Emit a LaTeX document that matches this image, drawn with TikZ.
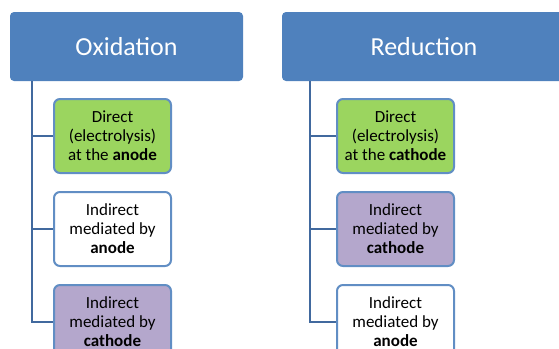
\documentclass[tikz,border=0pt]{standalone}
\usepackage{fontspec}
\setmainfont{Carlito}
\usetikzlibrary{positioning}
\definecolor{headblue}{HTML}{4F81BD}
\definecolor{linkblue}{HTML}{41699E}
\definecolor{leafgreen}{HTML}{9BD55F}
\definecolor{leafpurple}{HTML}{B4A7CC}
\begin{document}
\begin{tikzpicture}[x=1pt, y=-1pt, node distance={17pt},
  head/.style = {fill=headblue, rounded corners=4pt, minimum height=69pt, text=white, font=\fontsize{26}{30}\selectfont, inner sep=0pt},
  leaf/.style = {draw=headblue!90, line width=2pt, rounded corners=6pt, minimum width=117pt, minimum height=74pt, align=center, font=\fontsize{17}{19}\selectfont, inner sep=0pt},
  link/.style = {draw=linkblue, line width=2.5pt}]
\clip (0,0) rectangle (559,348);

\node[head, minimum width=233pt] (ox) at (126.5,46.5) {Oxidation};
\node[head, minimum width=284pt] (red) at (424,46.5) {Reduction};

\node[leaf, fill=leafgreen] (o1) at (112.5,136) {Direct\\(electrolysis)\\at the \textbf{anode}};
\node[leaf, fill=white] (o2) [below=of o1] {Indirect\\mediated by\\\textbf{anode}};
\node[leaf, fill=leafpurple] (o3) [below=of o2] {Indirect\\mediated by\\\textbf{cathode}};

\node[leaf, fill=leafgreen] (r1) at (395.5,136) {Direct\\(electrolysis)\\at the \textbf{cathode}};
\node[leaf, fill=leafpurple] (r2) [below=of r1] {Indirect\\mediated by\\\textbf{cathode}};
\node[leaf, fill=white] (r3) [below=of r2] {Indirect\\mediated by\\\textbf{anode}};

\coordinate (ox-trunk) at ([xshift=22pt]ox.south west);
\coordinate (red-trunk) at ([xshift=28pt]red.south west);

\draw[link] (ox-trunk) |- (o3.west);
\draw[link] (ox-trunk |- o1.west) -- (o1.west);
\draw[link] (ox-trunk |- o2.west) -- (o2.west);
\draw[link] (red-trunk) |- (r3.west);
\draw[link] (red-trunk |- r1.west) -- (r1.west);
\draw[link] (red-trunk |- r2.west) -- (r2.west);

\end{tikzpicture}
\end{document}
